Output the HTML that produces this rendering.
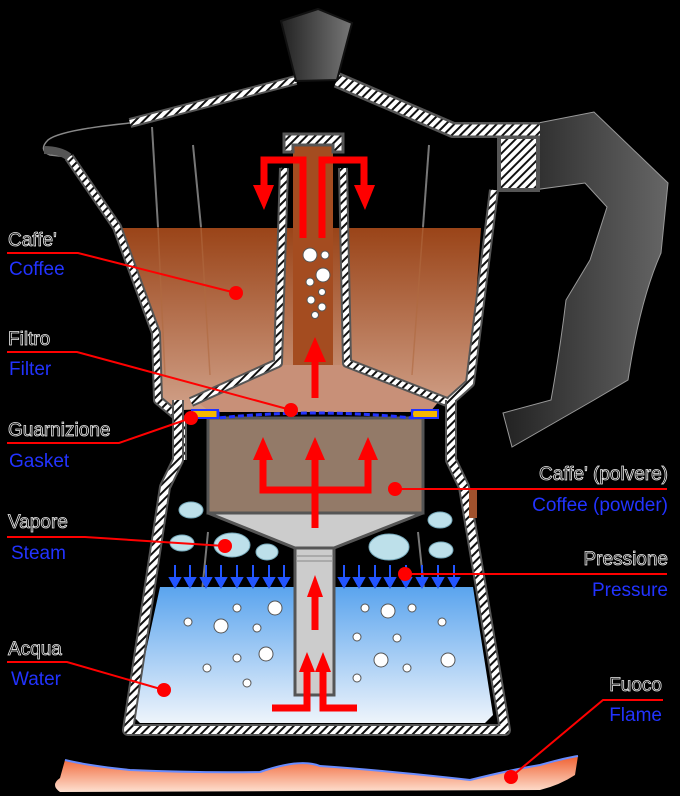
<!DOCTYPE html>
<html><head><meta charset="utf-8"><style>
html,body{margin:0;padding:0;background:#000;}
svg{display:block}
.it{font-family:"Liberation Sans",sans-serif;font-size:19px;fill:#000;stroke:#e8e8e8;stroke-width:0.8}
.en{font-family:"Liberation Sans",sans-serif;font-size:19px;fill:#2233ff}
.w{fill:none;stroke:#555;stroke-width:10;stroke-linejoin:round}
.wi{fill:none;stroke:url(#hatch);stroke-width:6;stroke-linejoin:round}
.ld{stroke:#f00;stroke-width:2;fill:none}
.ar{stroke:#f00;stroke-width:7;fill:none}
</style></head><body>
<svg width="680" height="796" viewBox="0 0 680 796" xmlns="http://www.w3.org/2000/svg">
<defs>
<pattern id="hatch" width="6" height="6" patternUnits="userSpaceOnUse" patternTransform="rotate(45)">
<rect width="6" height="6" fill="#fff"/><rect width="2" height="6" fill="#111"/></pattern>
<linearGradient id="cof" x1="0" y1="0" x2="0" y2="1"><stop offset="0" stop-color="#9a4418"/><stop offset="1" stop-color="#d0a088"/></linearGradient>
<linearGradient id="wat" x1="0" y1="0" x2="0" y2="1"><stop offset="0" stop-color="#5aa4ee"/><stop offset="1" stop-color="#eef4fb"/></linearGradient>
<linearGradient id="knob" x1="0" y1="0" x2="1" y2="0"><stop offset="0" stop-color="#222"/><stop offset="1" stop-color="#777"/></linearGradient>
<linearGradient id="hd" x1="0" y1="0" x2="1" y2="0"><stop offset="0" stop-color="#222"/><stop offset="1" stop-color="#666"/></linearGradient>
<linearGradient id="fl" x1="0" y1="0" x2="0" y2="1"><stop offset="0" stop-color="#f06030"/><stop offset="1" stop-color="#fde0d0"/></linearGradient>
<g id="ba" stroke="#2255ff" stroke-width="2" fill="#2255ff"><line x1="0" y1="565" x2="0" y2="580"/><polygon points="-5,578 5,578 0,587"/></g>
</defs>
<rect width="680" height="796" fill="#000"/>

<!-- handle -->
<path d="M538,123 L594,112 L668,183 L661,253 Q640,300 628,380 L594,400 L512,447 L503,413 L551,400 Q560,350 566,300 L590,260 L607,207 L585,183 L533,190 Z" fill="url(#hd)" stroke="#999" stroke-width="1"/>

<!-- coffee liquid -->
<path d="M117,228 L481,228 L470,383 L451,400 L182,410 L158,400 L156,333 Z" fill="url(#cof)"/>
<rect x="293" y="145" width="40" height="260" fill="#a44c20"/>
<path d="M195,400 L278,365 L347,365 L440,400 L430,412 L210,412 Z" fill="#c89078"/>

<g stroke="#777" stroke-width="2"><line x1="152" y1="127" x2="158" y2="227"/><line x1="193" y1="145" x2="201" y2="227"/><line x1="429" y1="145" x2="423" y2="227"/>
<line x1="208" y1="532" x2="191" y2="702"/><line x1="418" y1="532" x2="436" y2="702"/></g>
<g stroke="#b06a40" stroke-width="1.5" opacity=".6"><line x1="158" y1="227" x2="165" y2="375"/><line x1="201" y1="227" x2="210" y2="375"/><line x1="423" y1="227" x2="412" y2="375"/></g>

<g>
<path class="w" d="M69,157 L117,227 L156,333 L158,400 L182,420 L182,460"/>
<path class="wi" d="M69,157 L117,227 L156,333 L158,400 L182,420 L182,460"/>
<path class="w" d="M494,190 L470,383 L451,400 L451,460"/>
<path class="wi" d="M494,190 L470,383 L451,400 L451,460"/>
<rect x="499" y="137" width="39" height="53" fill="url(#hatch)" stroke="#555" stroke-width="4"/>
<path d="M130,123 Q60,130 48,140 Q38,150 50,155 L69,157" fill="none" stroke="#888" stroke-width="1.5"/>
<path d="M44,150 Q60,150 69,157" stroke="#555" stroke-width="8" fill="none"/>
<path class="w" d="M130,123 L296,80"/><path class="wi" d="M130,123 L296,80"/>
<path class="w" d="M337,80 L453,130 L540,130" style="stroke-width:16"/>
<path class="wi" d="M337,80 L453,130 L540,130" style="stroke-width:11"/>
<path class="w" d="M284,168 L278,363 L191,402"/><path class="wi" d="M284,168 L278,363 L191,402"/>
<path class="w" d="M343,168 L347,363 L447,402"/><path class="wi" d="M343,168 L347,363 L447,402"/>
<path d="M284,134 L343,134 L343,152 L333,152 L333,145 L293,145 L293,152 L284,152 Z" fill="url(#hatch)" stroke="#555" stroke-width="3"/>
</g>

<polygon points="281,21 318,9 352,23 337,80 296,81" fill="url(#knob)" stroke="#111" stroke-width="2"/>

<path d="M160,587 L473,587 L493,715 L485,723 L140,723 L132,715 Z" fill="url(#wat)"/>
<path class="w" d="M178,400 L178,460 L165,487 L128,730 L505,730 L464,487 L451,460 L451,400" style="stroke-width:12"/>
<path class="wi" d="M178,400 L178,460 L165,487 L128,730 L505,730 L464,487 L451,460 L451,400" style="stroke-width:8"/>
<rect x="469" y="488" width="8" height="30" fill="#a0522d"/>

<rect x="208" y="418" width="215" height="95" fill="#937a68" stroke="#555" stroke-width="3"/>
<polygon points="208,513 295,548 334,548 423,513" fill="#ccc" stroke="#555" stroke-width="3"/>
<rect x="295" y="548" width="39" height="147" fill="#ccc" stroke="#555" stroke-width="3"/>
<line x1="297" y1="556" x2="332" y2="556" stroke="#888"/><line x1="297" y1="561" x2="332" y2="561" stroke="#888"/>
<rect x="192" y="410" width="26" height="8" fill="#f5b800" stroke="#2233ff" stroke-width="2"/>
<rect x="412" y="410" width="26" height="8" fill="#f5b800" stroke="#2233ff" stroke-width="2"/>
<path d="M218,411 L218,418 Q315,408 412,418 L412,411" fill="none" stroke="#2233ff" stroke-width="3" stroke-dasharray="6,3"/>

<g fill="#bde0ea" stroke="#7ab" stroke-width="1">
<ellipse cx="191" cy="510" rx="12" ry="8"/><ellipse cx="182" cy="543" rx="12" ry="8"/><ellipse cx="232" cy="545" rx="18" ry="12"/><ellipse cx="267" cy="552" rx="11" ry="8"/>
<ellipse cx="440" cy="520" rx="12" ry="8"/><ellipse cx="389" cy="547" rx="20" ry="13"/><ellipse cx="441" cy="550" rx="12" ry="8"/></g>

<use href="#ba" x="175"/><use href="#ba" x="190"/><use href="#ba" x="206"/><use href="#ba" x="221"/><use href="#ba" x="237"/><use href="#ba" x="253"/><use href="#ba" x="269"/><use href="#ba" x="284"/>
<use href="#ba" x="344"/><use href="#ba" x="359"/><use href="#ba" x="375"/><use href="#ba" x="390"/><use href="#ba" x="406"/><use href="#ba" x="422"/><use href="#ba" x="438"/><use href="#ba" x="454"/>

<g fill="#fff" stroke="#555" stroke-width="1">
<circle cx="310" cy="255" r="7"/><circle cx="325" cy="255" r="4"/><circle cx="323" cy="275" r="7"/><circle cx="310" cy="282" r="4"/><circle cx="322" cy="292" r="3.5"/><circle cx="311" cy="300" r="4"/><circle cx="322" cy="307" r="4"/><circle cx="315" cy="315" r="3.5"/>
<circle cx="237" cy="608" r="4"/><circle cx="275" cy="608" r="7"/><circle cx="188" cy="622" r="4"/><circle cx="221" cy="626" r="7"/><circle cx="257" cy="628" r="4"/><circle cx="237" cy="658" r="4"/><circle cx="266" cy="654" r="7"/><circle cx="207" cy="668" r="4"/><circle cx="247" cy="683" r="4"/>
<circle cx="365" cy="608" r="4"/><circle cx="388" cy="611" r="7"/><circle cx="412" cy="608" r="4"/><circle cx="357" cy="637" r="4"/><circle cx="397" cy="638" r="4"/><circle cx="442" cy="622" r="4"/><circle cx="381" cy="660" r="7"/><circle cx="407" cy="668" r="4"/><circle cx="357" cy="678" r="4"/><circle cx="448" cy="660" r="7"/>
</g>

<g fill="#f00">
<path class="ar" d="M303,238 L303,160 L264,160 L264,190"/><path class="ar" d="M322,238 L322,160 L364,160 L364,190"/>
<polygon points="253,185 274,185 264,210"/><polygon points="354,185 375,185 365,210"/>
<path class="ar" d="M315,398 L315,360"/><polygon points="304,362 326,362 315,337"/>
<path class="ar" d="M315,528 L315,455 M263,460 L263,490 L368,490 L368,460"/>
<polygon points="253,460 273,460 263,437"/><polygon points="305,460 325,460 315,437"/><polygon points="358,460 378,460 368,437"/>
<path class="ar" d="M315,630 L315,595"/><polygon points="307,597 323,597 315,575"/>
<path class="ar" d="M272,708 L307,708 L307,670 M357,708 L323,708 L323,670"/>
<polygon points="299,672 315,672 307,652"/><polygon points="315,672 331,672 323,652"/>
</g>

<path d="M65,760 Q90,766 130,770 Q200,773 260,772 Q300,758 320,766 Q380,770 470,780 Q510,770 540,765 Q565,758 578,756 L575,775 Q560,785 540,790 L60,792 Q50,785 60,778 Z" fill="url(#fl)"/>
<path d="M65,760 Q90,766 130,770 Q200,773 260,772 Q300,758 320,766 Q380,770 470,780 Q510,770 540,765 Q565,758 578,756" fill="none" stroke="#6a8cff" stroke-width="2"/>

<g class="ld">
<path d="M7,253 L78,253 L236,293"/><path d="M7,352 L77,352 L291,410"/><path d="M7,443 L119,443 L191,418"/>
<path d="M7,537 L85,537 L225,546"/><path d="M7,662 L67,662 L164,690"/><path d="M395,489 L667,489"/><path d="M405,574 L667,574"/><path d="M511,777 L603,700 L663,700"/>
</g>
<g fill="#f00"><circle cx="236" cy="293" r="7"/><circle cx="291" cy="410" r="7"/><circle cx="191" cy="418" r="7"/><circle cx="225" cy="546" r="7"/><circle cx="164" cy="690" r="7"/><circle cx="395" cy="489" r="7"/><circle cx="405" cy="574" r="7"/><circle cx="511" cy="777" r="7"/></g>

<text class="it" x="8" y="246">Caffe'</text><text class="en" x="9" y="275">Coffee</text>
<text class="it" x="8" y="345">Filtro</text><text class="en" x="9" y="375">Filter</text>
<text class="it" x="8" y="436">Guarnizione</text><text class="en" x="9" y="467">Gasket</text>
<text class="it" x="8" y="528">Vapore</text><text class="en" x="11" y="559">Steam</text>
<text class="it" x="8" y="655">Acqua</text><text class="en" x="11" y="685">Water</text>
<text class="it" x="668" y="480" text-anchor="end">Caffe' (polvere)</text><text class="en" x="668" y="511" text-anchor="end">Coffee (powder)</text>
<text class="it" x="668" y="565" text-anchor="end">Pressione</text><text class="en" x="668" y="596" text-anchor="end">Pressure</text>
<text class="it" x="662" y="691" text-anchor="end">Fuoco</text><text class="en" x="662" y="721" text-anchor="end">Flame</text>
</svg>
</body></html>
